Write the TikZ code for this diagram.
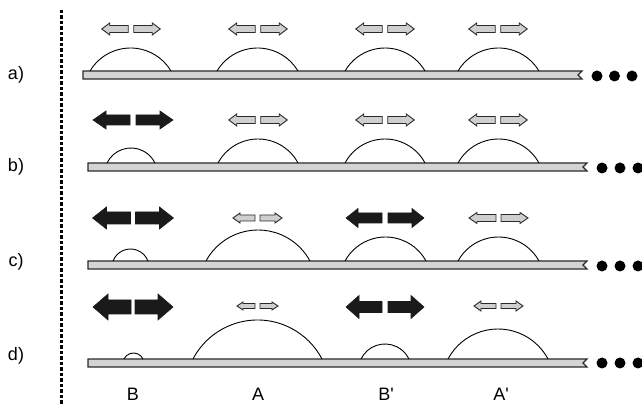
\documentclass[tikz,border=0pt]{standalone}
\usepackage{fontspec}
\setmainfont{Liberation Sans}
\definecolor{barfill}{HTML}{D4D4D4}
\definecolor{arrgray}{HTML}{CFCFCF}
\definecolor{arrblack}{HTML}{1A1A1A}
\definecolor{edge}{HTML}{2A2A2A}
\tikzset{
  barstyle/.style={draw=edge, fill=barfill, line width=1.2pt, line join=miter},
  domeline/.style={draw=black, line width=0.9pt},
  grayarr/.style={draw=edge, fill=arrgray, line width=0.9pt, line join=miter},
  blackarr/.style={draw=arrblack, fill=arrblack, line width=0.6pt, line join=miter},
  dotstyle/.style={fill=black},
  lbl/.style={font=\fontsize{18}{20}\selectfont, inner sep=0pt},
}
% dome: cx, ybase, halfwidth, height
\newcommand{\dome}[4]{%
  \pgfmathsetmacro\domeR{(#3*#3+#4*#4)/(2*#4)}%
  \pgfmathsetmacro\domeA{asin(#3/\domeR)}%
  \draw[domeline] (#1-#3,#2) arc[start angle=90+\domeA, end angle=90-\domeA, radius=\domeR];}
% half arrow: tail x, tip x, Y, bodyhalf, headhalf, headlen, style
\newcommand{\harr}[7]{%
  \pgfmathsetmacro\hdir{sign(#2-#1)}%
  \pgfmathsetmacro\hb{#2-\hdir*#6}%
  \filldraw[#7] (#1,#3-#4) -- (\hb,#3-#4) -- (\hb,#3-#5) -- (#2,#3) -- (\hb,#3+#5) -- (\hb,#3+#4) -- (#1,#3+#4) -- cycle;}
% pair: cx, Y, gap, len, bodyhalf, headhalf, headlen, style
\newcommand{\apair}[8]{%
  \harr{#1-#3}{#1-#3-#4}{#2}{#5}{#6}{#7}{#8}%
  \harr{#1+#3}{#1+#3+#4}{#2}{#5}{#6}{#7}{#8}}
% bar: xl, xr, top Y, bottom Y
\newcommand{\slab}[4]{%
  \filldraw[barstyle] (#1,#3) -- (#2,#3) -- (#2-4,{(#3+#4)/2}) -- (#2,#4) -- (#1,#4) -- cycle;}
\begin{document}
\begin{tikzpicture}[x=1pt,y=1pt]
\useasboundingbox (0,0) rectangle (642,406);
% dashed divider
\coordinate (dtop) at (61,396);
\coordinate (dbot) at (61,0);
\draw[line width=3pt, dash pattern=on 3.5pt off 2pt] (dtop) -- (dbot);
% row labels
\node[lbl] (la) at (16,331) {a)};
\node[lbl] (lb) at (16,239) {b)};
\node[lbl] (lc) at (16,144) {c)};
\node[lbl] (ld) at (16,50) {d)};
% bottom labels
\node[lbl] (nB) at (133,12) {B};
\node[lbl] (nA) at (258,12) {A};
\node[lbl] (nBp) at (386,12) {B\textquotesingle};
\node[lbl] (nAp) at (501,12) {A\textquotesingle};

% ---- row a ----
\slab{83}{582}{335}{327}
\dome{130.5}{335}{40.5}{23}
\dome{257.5}{335}{40.5}{23}
\dome{385}{335}{40}{23}
\dome{498.5}{335}{40.5}{23}
\apair{131}{377}{2.75}{26.5}{3.5}{6}{8}{grayarr}
\apair{258}{377}{2.75}{26.5}{3.5}{6}{8}{grayarr}
\apair{385}{377}{2.75}{26.5}{3.5}{6}{8}{grayarr}
\apair{498}{377}{2.75}{26.5}{3.5}{6}{8}{grayarr}
\fill[dotstyle] (597,330) circle (5.5) (614.5,330) circle (5.5) (632,330) circle (5.5);

% ---- row b ----
\slab{88}{587}{243}{235}
\dome{131}{243}{24}{15}
\dome{258}{243}{40}{24}
\dome{385}{243}{40}{24}
\dome{498.5}{243}{40.5}{24}
\apair{133}{286}{3}{37}{5}{9}{13}{blackarr}
\apair{258}{286}{2.75}{26.5}{3.5}{6}{8}{grayarr}
\apair{385}{286}{2.75}{26.5}{3.5}{6}{8}{grayarr}
\apair{498}{286}{2.75}{26.5}{3.5}{6}{8}{grayarr}
\fill[dotstyle] (602,238) circle (5.5) (620,238) circle (5.5) (638,238) circle (5.5);

% ---- row c ----
\slab{88}{587}{145}{137}
\dome{130.5}{145}{17.5}{12}
\dome{258}{145}{52}{31}
\dome{385.5}{145}{40.5}{24}
\dome{498.5}{145}{40.5}{24}
\apair{133}{188}{2.5}{38}{6}{11}{14}{blackarr}
\apair{257.5}{188}{2.5}{22}{3}{5}{7}{grayarr}
\apair{385}{188}{3}{36}{5}{9.5}{12}{blackarr}
\apair{498.5}{188}{2.5}{27}{3.5}{5.5}{8}{grayarr}
\fill[dotstyle] (602,140) circle (5.5) (620,140) circle (5.5) (638,140) circle (5.5);

% ---- row d ----
\slab{88}{587}{47}{39}
\dome{133.5}{47}{9.5}{6}
\dome{257.5}{47}{64.5}{39}
\dome{385}{47}{24}{15}
\dome{498}{47}{50}{30}
\apair{133}{99}{2}{38}{7}{13}{15}{blackarr}
\apair{257.5}{100}{2.5}{18}{2.5}{4}{6}{grayarr}
\apair{385}{99}{3}{36}{5.5}{11.5}{13}{blackarr}
\apair{498.5}{100}{2.5}{22}{2.5}{5}{7}{grayarr}
\fill[dotstyle] (602,43) circle (5.5) (620,43) circle (5.5) (638,43) circle (5.5);
\end{tikzpicture}
\end{document}
